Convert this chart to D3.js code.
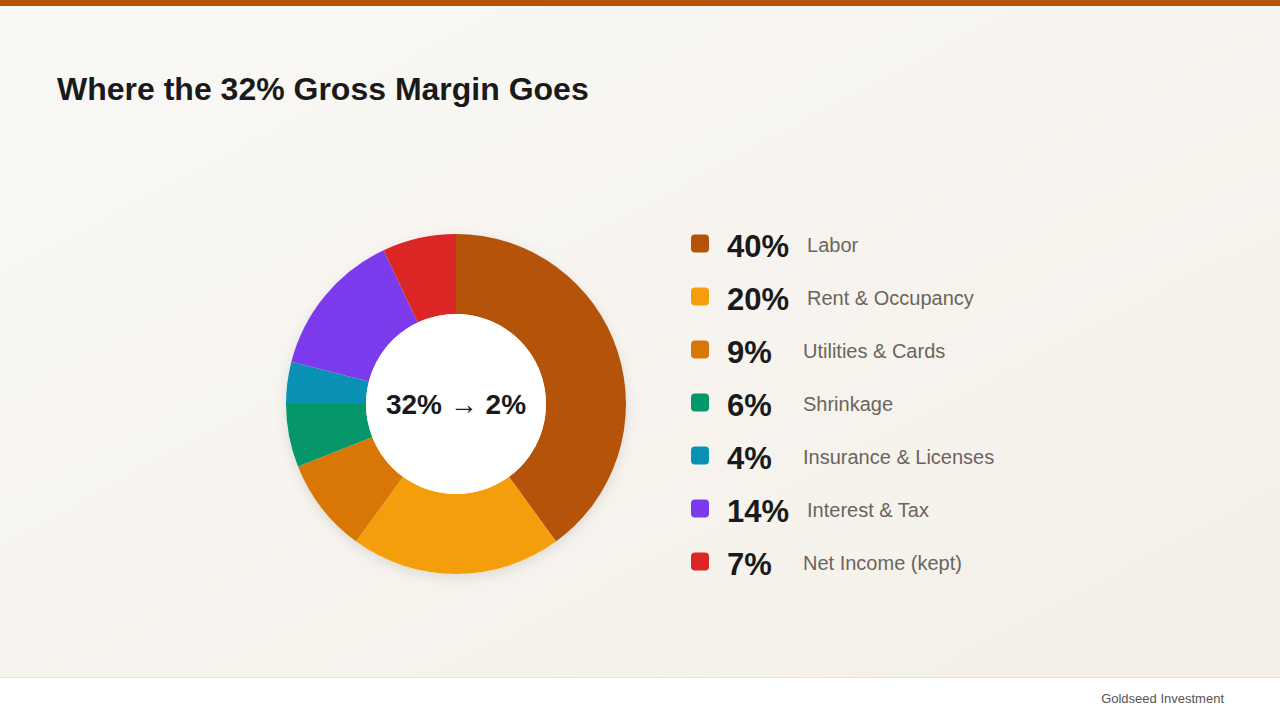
<!DOCTYPE html>
<html>
<head>
<meta charset="utf-8">
<script src="https://cdn.jsdelivr.net/npm/d3@7"></script>
<style>
  body { margin: 0; background: #fff; }
  svg { display: block; font-family: "Liberation Sans", Arial, Helvetica, sans-serif; }
</style>
</head>
<body>
<div id="chart"></div>
<script>
// data
let categories = ["Labor", "Rent & Occupancy", "Utilities & Cards", "Shrinkage", "Insurance & Licenses", "Interest & Tax", "Net Income (kept)"];
let shares = [40, 20, 9, 6, 4, 14, 7];
let colors = ["#b45309", "#f59e0b", "#d97706", "#059669", "#0891b2", "#7c3aed", "#dc2626"];
let title = "Where the 32% Gross Margin Goes";
let centerLabel = "32% \u2192 2%";
let footerText = "Goldseed Investment";

let width = 1280;
let height = 720;

let svg = d3.select("#chart").append("svg")
  .attr("width", width)
  .attr("height", height);

let defs = svg.append("defs");

// background gradient
let bg = defs.append("linearGradient")
  .attr("id", "bg")
  .attr("x1", "0%").attr("y1", "0%")
  .attr("x2", "100%").attr("y2", "100%");
bg.append("stop").attr("offset", "0%").attr("stop-color", "#faf9f6");
bg.append("stop").attr("offset", "100%").attr("stop-color", "#f4efe8");

// soft shadow under the donut
let shadow = defs.append("filter")
  .attr("id", "shadow")
  .attr("x", "-20%").attr("y", "-20%")
  .attr("width", "140%").attr("height", "140%");
shadow.append("feDropShadow")
  .attr("dx", 0).attr("dy", 4)
  .attr("stdDeviation", 6)
  .attr("flood-color", "#000")
  .attr("flood-opacity", 0.10);

svg.append("rect")
  .attr("width", width)
  .attr("height", 677)
  .attr("fill", "url(#bg)");

// top accent bar
svg.append("rect")
  .attr("width", width)
  .attr("height", 6)
  .attr("fill", "#b45309");

// footer
svg.append("rect")
  .attr("y", 677)
  .attr("width", width)
  .attr("height", height - 677)
  .attr("fill", "#ffffff");
svg.append("line")
  .attr("x1", 0).attr("x2", width)
  .attr("y1", 677.5).attr("y2", 677.5)
  .attr("stroke", "#e6e2dc");
svg.append("text")
  .attr("x", 1224)
  .attr("y", 703)
  .attr("text-anchor", "end")
  .attr("font-size", 13)
  .attr("fill", "#555")
  .text(footerText);

// title
svg.append("text")
  .attr("x", 57)
  .attr("y", 100)
  .attr("font-size", 32)
  .attr("font-weight", "bold")
  .attr("fill", "#1a1a1a")
  .text(title);

// donut
let cx = 456;
let cy = 404;
let outerR = 170;
let innerR = 90;

let pie = d3.pie().sort(null).value(d => d);
let arc = d3.arc().innerRadius(innerR).outerRadius(outerR);

let donut = svg.append("g")
  .attr("transform", `translate(${cx},${cy})`);

donut.append("circle")
  .attr("r", outerR)
  .attr("fill", "#fff")
  .attr("filter", "url(#shadow)");

donut.selectAll("path")
  .data(pie(shares))
  .enter()
  .append("path")
  .attr("d", arc)
  .attr("fill", (d, i) => colors[i]);

donut.append("circle")
  .attr("r", innerR)
  .attr("fill", "#fff");

donut.append("text")
  .attr("y", 10)
  .attr("text-anchor", "middle")
  .attr("font-size", 28)
  .attr("font-weight", "bold")
  .attr("fill", "#1a1a1a")
  .text(centerLabel);

// legend
let legendX = 691;
let legendY = d3.scaleBand()
  .domain(categories)
  .range([217, 588]);

let rows = svg.selectAll(".legend-row")
  .data(categories)
  .enter()
  .append("g")
  .attr("class", "legend-row")
  .attr("transform", d => `translate(${legendX},${legendY(d) + legendY.bandwidth() / 2})`);

rows.append("rect")
  .attr("x", 0)
  .attr("y", -9)
  .attr("width", 18)
  .attr("height", 18)
  .attr("rx", 4)
  .attr("fill", (d, i) => colors[i]);

rows.append("text")
  .attr("class", "pct")
  .attr("x", 36)
  .attr("y", 13)
  .attr("font-size", 31)
  .attr("font-weight", "bold")
  .attr("fill", "#1a1a1a")
  .text((d, i) => shares[i] + "%");

rows.each(function(d) {
  let row = d3.select(this);
  let w = row.select(".pct").node().getComputedTextLength();
  row.append("text")
    .attr("x", 36 + Math.max(w, 58) + 18)
    .attr("y", 8)
    .attr("font-size", 20)
    .attr("fill", "#6b645d")
    .text(d);
});
</script>
</body>
</html>
